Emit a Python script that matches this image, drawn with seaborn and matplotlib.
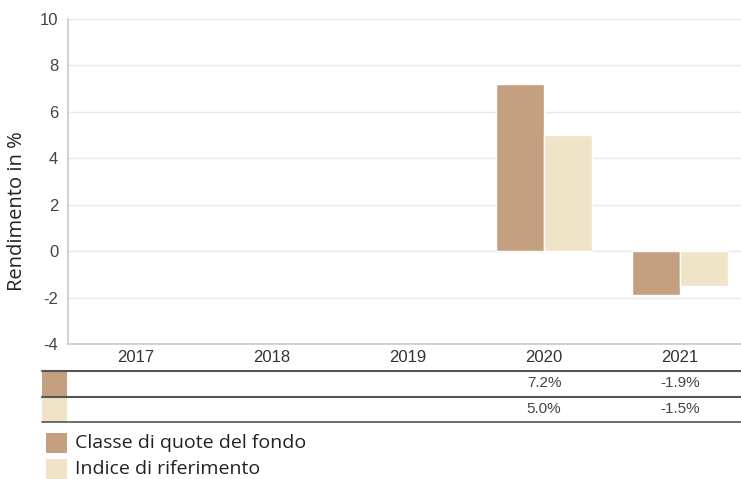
import numpy as np
import pandas as pd
import seaborn as sns
import matplotlib.pyplot as plt
from matplotlib.patches import Rectangle

# dati
anni = ["2017", "2018", "2019", "2020", "2021"]
fondo = [np.nan, np.nan, np.nan, 7.2, -1.9]
indice = [np.nan, np.nan, np.nan, 5.0, -1.5]
serie = ["Classe di quote del fondo", "Indice di riferimento"]
colori = ["#C4A080", "#EFE3C8"]
y_ticks = [-4, -2, 0, 2, 4, 6, 8, 10]

df = pd.DataFrame({
    "Anno": anni * 2,
    "Serie": [serie[0]] * len(anni) + [serie[1]] * len(anni),
    "Valore": fondo + indice,
})

sns.set_theme(style="white")
plt.rcParams["font.family"] = ["Liberation Sans", "DejaVu Sans"]

W, H = 741, 479
fig = plt.figure(figsize=(W / 100, H / 100), dpi=100)
ax = fig.add_axes([68 / W, 1 - 344 / H, (748 - 68) / W, (344 - 19) / H])

sns.barplot(data=df, x="Anno", y="Valore", hue="Serie", palette=colori,
            saturation=1, width=0.7, edgecolor="white", linewidth=1,
            ax=ax, legend=False)

ax.set_ylim(-4, 10)
ax.set_xlim(-0.5, 4.5)
ax.set_yticks(y_ticks)
ax.set_yticklabels([str(t) for t in y_ticks], fontsize=12, color="#444444")
ax.tick_params(axis="y", length=0, pad=7)
ax.tick_params(axis="x", length=0, pad=4, labelsize=12, labelcolor="#333333")
ax.grid(axis="y", color="#e8e8e8", linewidth=1)
ax.set_axisbelow(True)
for s in ["top", "right"]:
    ax.spines[s].set_visible(False)
ax.spines["left"].set_color("#cccccc")
ax.spines["bottom"].set_color("#cccccc")
ax.set_xlabel("")
ax.set_ylabel("Rendimento in %", fontsize=14.5, family=["Open Sans", "DejaVu Sans"],
              color="#222222")
ax.yaxis.set_label_coords(-0.060, 0.41)

# tabella sotto il grafico
def fy(py):
    return 1 - py / H

x0, x1 = 42 / W, 1.0
for py, lw in [(371, 1.5), (397, 1.5), (422, 1.2)]:
    fig.add_artist(plt.Line2D([x0, x1], [fy(py), fy(py)], color="#555555", linewidth=lw))

righe = [fondo, indice]
for i, (vals, col) in enumerate(zip(righe, colori)):
    top = 372 + i * 26
    fig.add_artist(Rectangle((x0, fy(top + 24)), 25 / W, 24 / H,
                             transform=fig.transFigure, color=col, linewidth=0))
    for j, v in enumerate(vals):
        if np.isnan(v):
            continue
        xd = ax.transData.transform((j, 0))[0] / W
        fig.text(xd, fy(top + 11), f"{v:.1f}%", ha="center", va="center",
                 fontsize=11, color="#444444")

# legenda
for i, (nome, col) in enumerate(zip(serie, colori)):
    top = 433 + i * 26
    fig.add_artist(Rectangle((46 / W, fy(top + 20)), 21 / W, 20 / H,
                             transform=fig.transFigure, color=col, linewidth=0))
    fig.text(75 / W, fy(top + 10), nome, ha="left", va="center", fontsize=14,
             family=["Open Sans", "DejaVu Sans"], color="#222222")

fig.savefig("out.png", dpi=100)
